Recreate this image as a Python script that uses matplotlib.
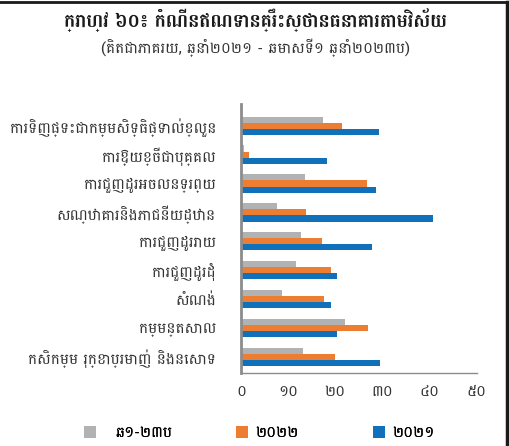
import matplotlib
matplotlib.use("Agg")
import matplotlib.pyplot as plt
from matplotlib.patches import Patch
from matplotlib.lines import Line2D
import numpy as np

plt.rcParams['font.family'] = ['Battambang', 'DejaVu Sans']

categories = [
    "ការទិញផ្ទះជាកម្មសិទ្ធិផ្ទាល់ខ្លួន",
    "ការឱ្យខ្ចីជាបុគ្គល",
    "ការជួញដូរអចលនទ្រព្យ",
    "សណ្ឋាគារនិងភោជនីយដ្ឋាន",
    "ការជួញដូររាយ",
    "ការជួញដូរដុំ",
    "សំណង់",
    "កម្មន្តសាល",
    "កសិកម្ម រុក្ខាប្រមាញ់ និងនេសាទ",
]
series_names = ["ឆ១-២៣ប", "២០២២", "២០២១"]
h1_2023 = [17.4, 0.6, 13.5, 7.7, 12.8, 11.6, 8.7, 22.1, 13.2]
y2022 = [21.5, 1.6, 26.8, 13.8, 17.2, 19.0, 17.6, 27.0, 19.9]
y2021 = [29.3, 18.2, 28.6, 40.6, 27.7, 20.4, 19.1, 20.4, 29.4]
xticks = [0, 10, 20, 30, 40, 50]
xtick_labels = ["០", "១០", "២០", "៣០", "៤០", "៥០"]
title = "ក្រាហ្វ ៦០៖ កំណើនឥណទានគ្រឹះស្ថានធនាគារតាមវិស័យ"
subtitle = "(គិតជាភាគរយ, ឆ្នាំ២០២១ - ឆមាសទី១ ឆ្នាំ២០២៣ប)"

colors = ["#B1B2B4", "#ED7D31", "#1170BA"]

fig = plt.figure(figsize=(5.10, 4.46), dpi=100)
ax = fig.add_axes([0.4725, 0.1637, 0.935 - 0.4725, 0.767 - 0.1637])

n = len(categories)
y = np.arange(n)
bh = 0.21
for i, (vals, c) in enumerate(zip([h1_2023, y2022, y2021], colors)):
    ax.barh(y + (i - 1) * bh, vals, height=bh, color=c, edgecolor='none')

ax.set_ylim(n - 0.45, -0.75)
ax.set_xlim(0, 50)
ax.set_yticks(y)
ax.set_yticklabels(categories, fontsize=11, color='#333333')
ax.set_xticks(xticks)
ax.set_xticklabels(xtick_labels, fontsize=11, color='#333333')
ax.tick_params(axis='both', length=0)
ax.tick_params(axis='y', pad=18)
ax.tick_params(axis='x', pad=9)
for s in ['top', 'right']:
    ax.spines[s].set_visible(False)
ax.spines['left'].set_color('#8C8C8C')
ax.spines['left'].set_linewidth(2.0)
ax.spines['bottom'].set_color('#8C8C8C')
ax.spines['bottom'].set_linewidth(1.0)

fig.text(0.5, 0.955, title, ha='center', va='center', fontsize=13.5, fontweight='bold', color='#1a1a1a')
fig.text(0.5, 0.893, subtitle, ha='center', va='center', fontsize=11, color='#333333')

# frame lines (top and right)
fig.add_artist(Line2D([0, 0.996], [0.996, 0.996], transform=fig.transFigure, color='#1a1a1a', lw=2))
fig.add_artist(Line2D([0.994, 0.994], [0, 0.996], transform=fig.transFigure, color='#1a1a1a', lw=2.5))

# legend: three separate entries
leg_x = [84 / 510, 236 / 510, 373 / 510]
leg_pad = [1.25, 0.45, 0.45]
for name, c, lx, pad in zip(series_names, colors, leg_x, leg_pad):
    lg = fig.legend([Patch(facecolor=c, edgecolor='none')], [name], loc='center left',
                    bbox_to_anchor=(lx, 0.029), frameon=False, fontsize=11,
                    handlelength=0.8, handleheight=0.8, handletextpad=pad,
                    borderpad=0, borderaxespad=0)
    fig.add_artist(lg)

fig.savefig("out.png", dpi=100)
